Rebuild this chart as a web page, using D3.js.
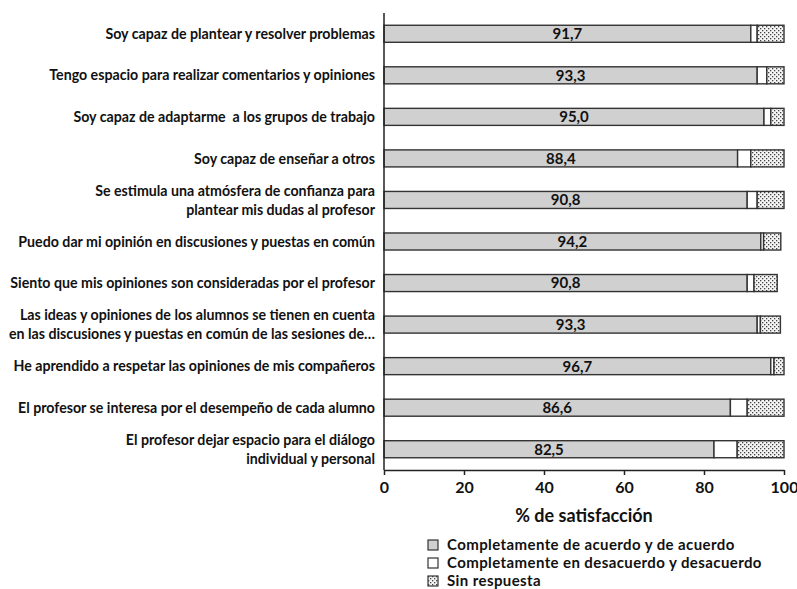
<!DOCTYPE html>
<html>
<head>
<meta charset="utf-8">
<script src="https://cdn.jsdelivr.net/npm/d3@7"></script>
<style>
  html, body { margin: 0; padding: 0; background: #fff; }
  svg { display: block; font-family: Lato, "Open Sans", sans-serif; font-weight: bold; }
  .cat { white-space: pre; }
</style>
</head>
<body>
<svg id="chart" width="797" height="589"></svg>
<script>
// Survey items (each entry is a list of label lines)
const categories = [
  ["Soy capaz de plantear y resolver problemas"],
  ["Tengo espacio para realizar comentarios y opiniones"],
  ["Soy capaz de adaptarme  a los grupos de trabajo"],
  ["Soy capaz de enseñar a otros"],
  ["Se estimula una atmósfera de confianza para", "plantear mis dudas al profesor"],
  ["Puedo dar mi opinión en discusiones y puestas en común"],
  ["Siento que mis opiniones son consideradas por el profesor"],
  ["Las ideas y opiniones de los alumnos se tienen en cuenta", "en las discusiones y puestas en común de las sesiones de…"],
  ["He aprendido a respetar las opiniones de mis compañeros"],
  ["El profesor se interesa por el desempeño de cada alumno"],
  ["El profesor dejar espacio para el diálogo", "individual y personal"]
];

// Percentages per response group
const agree    = [91.7, 93.3, 95.0, 88.4, 90.8, 94.2, 90.8, 93.3, 96.7, 86.6, 82.5];
const disagree = [1.6, 2.4, 1.7, 3.3, 2.5, 0.7, 1.7, 0.8, 0.8, 4.2, 5.8];
const noAnswer = [6.7, 4.3, 3.3, 8.3, 6.7, 4.3, 5.8, 5.0, 2.5, 9.2, 11.7];

const seriesNames = [
  "Completamente de acuerdo y de acuerdo",
  "Completamente en desacuerdo y desacuerdo",
  "Sin respuesta"
];

const xTicks = [0, 20, 40, 60, 80, 100];
const axisTitle = "% de satisfacción";

const svg = d3.select("#chart");

// Dotted fill for the "no answer" segments
const defs = svg.append("defs");
const pat = defs.append("pattern")
  .attr("id", "dots")
  .attr("patternUnits", "userSpaceOnUse")
  .attr("width", 4).attr("height", 4);
pat.append("rect").attr("width", 4).attr("height", 4).attr("fill", "#f4f4f4");
pat.append("rect").attr("x", 0).attr("y", 0).attr("width", 1.3).attr("height", 1.3).attr("fill", "#444");
pat.append("rect").attr("x", 2).attr("y", 2).attr("width", 1.3).attr("height", 1.3).attr("fill", "#444");

const plotLeft = 384, plotRight = 784, plotTop = 13, plotBottom = 470;

const x = d3.scaleLinear().domain([0, 100]).range([plotLeft, plotRight]);
const y = d3.scaleBand()
  .domain(d3.range(categories.length))
  .range([plotTop, plotBottom])
  .paddingInner(0.59)
  .paddingOuter(0.295);

const fills = ["#d0d0d0", "#ffffff", "url(#dots)"];
const rows = categories.map((c, i) => {
  const vals = [agree[i], disagree[i], noAnswer[i]];
  let acc = 0;
  return vals.map((v, k) => {
    const seg = { i, k, x0: acc, x1: acc + v };
    acc += v;
    return seg;
  });
});

const barG = svg.append("g");
barG.selectAll("g.row")
  .data(rows)
  .join("g")
  .attr("class", "row")
  .selectAll("rect")
  .data(d => d)
  .join("rect")
  .attr("x", d => x(d.x0))
  .attr("y", d => y(d.i))
  .attr("width", d => x(d.x1) - x(d.x0))
  .attr("height", y.bandwidth())
  .attr("fill", d => fills[d.k])
  .attr("stroke", "#333")
  .attr("stroke-width", 1.4);

// Value labels centred in the agree segment
svg.append("g").selectAll("text")
  .data(agree)
  .join("text")
  .attr("x", d => x(d / 2))
  .attr("y", (d, i) => y(i) + y.bandwidth() / 2)
  .attr("dy", "0.36em")
  .attr("text-anchor", "middle")
  .attr("font-size", 15)
  .attr("fill", "#111")
  .text(d => d.toFixed(1).replace(".", ","));

// Category labels
const lineGap = 19;
const catG = svg.append("g");
categories.forEach((lines, i) => {
  const cy = y(i) + y.bandwidth() / 2;
  const t = catG.append("text")
    .attr("class", "cat")
    .attr("x", 375)
    .attr("text-anchor", "end")
    .attr("font-size", 14.2)
    .attr("fill", "#111");
  lines.forEach((ln, j) => {
    t.append("tspan")
      .attr("x", 375)
      .attr("y", cy + (j - (lines.length - 1) / 2) * lineGap)
      .attr("dy", "0.36em")
      .text(ln);
  });
});

// Vertical category axis line
svg.append("line")
  .attr("x1", plotLeft).attr("x2", plotLeft)
  .attr("y1", plotTop).attr("y2", plotBottom)
  .attr("stroke", "#222").attr("stroke-width", 1.5);

// Bottom axis
const xAxis = d3.axisBottom(x)
  .tickValues(xTicks)
  .tickSize(5)
  .tickSizeOuter(0)
  .tickPadding(7)
  .tickFormat(d3.format("d"));
const ax = svg.append("g")
  .attr("transform", `translate(0,${plotBottom})`)
  .call(xAxis);
ax.select(".domain").attr("stroke", "#222").attr("stroke-width", 1.5);
ax.selectAll(".tick line").attr("stroke", "#222").attr("stroke-width", 1.5);
ax.selectAll(".tick text")
  .attr("font-family", "Lato, 'Open Sans', sans-serif")
  .attr("font-weight", "bold")
  .attr("font-size", 16)
  .attr("fill", "#111");

svg.append("text")
  .attr("x", (plotLeft + plotRight) / 2)
  .attr("y", 516)
  .attr("dy", "0.36em")
  .attr("text-anchor", "middle")
  .attr("font-size", 18)
  .attr("fill", "#111")
  .text(axisTitle);

// Legend
const legendY = [545, 563, 581];
const lg = svg.append("g");
seriesNames.forEach((name, k) => {
  lg.append("rect")
    .attr("x", 428).attr("y", legendY[k] - 5)
    .attr("width", 10).attr("height", 10)
    .attr("fill", fills[k])
    .attr("stroke", "#333").attr("stroke-width", 1.2);
  lg.append("text")
    .attr("x", 447).attr("y", legendY[k])
    .attr("dy", "0.36em")
    .attr("font-size", 15)
    .attr("letter-spacing", 0.4)
    .attr("fill", "#111")
    .text(name);
});
</script>
</body>
</html>
